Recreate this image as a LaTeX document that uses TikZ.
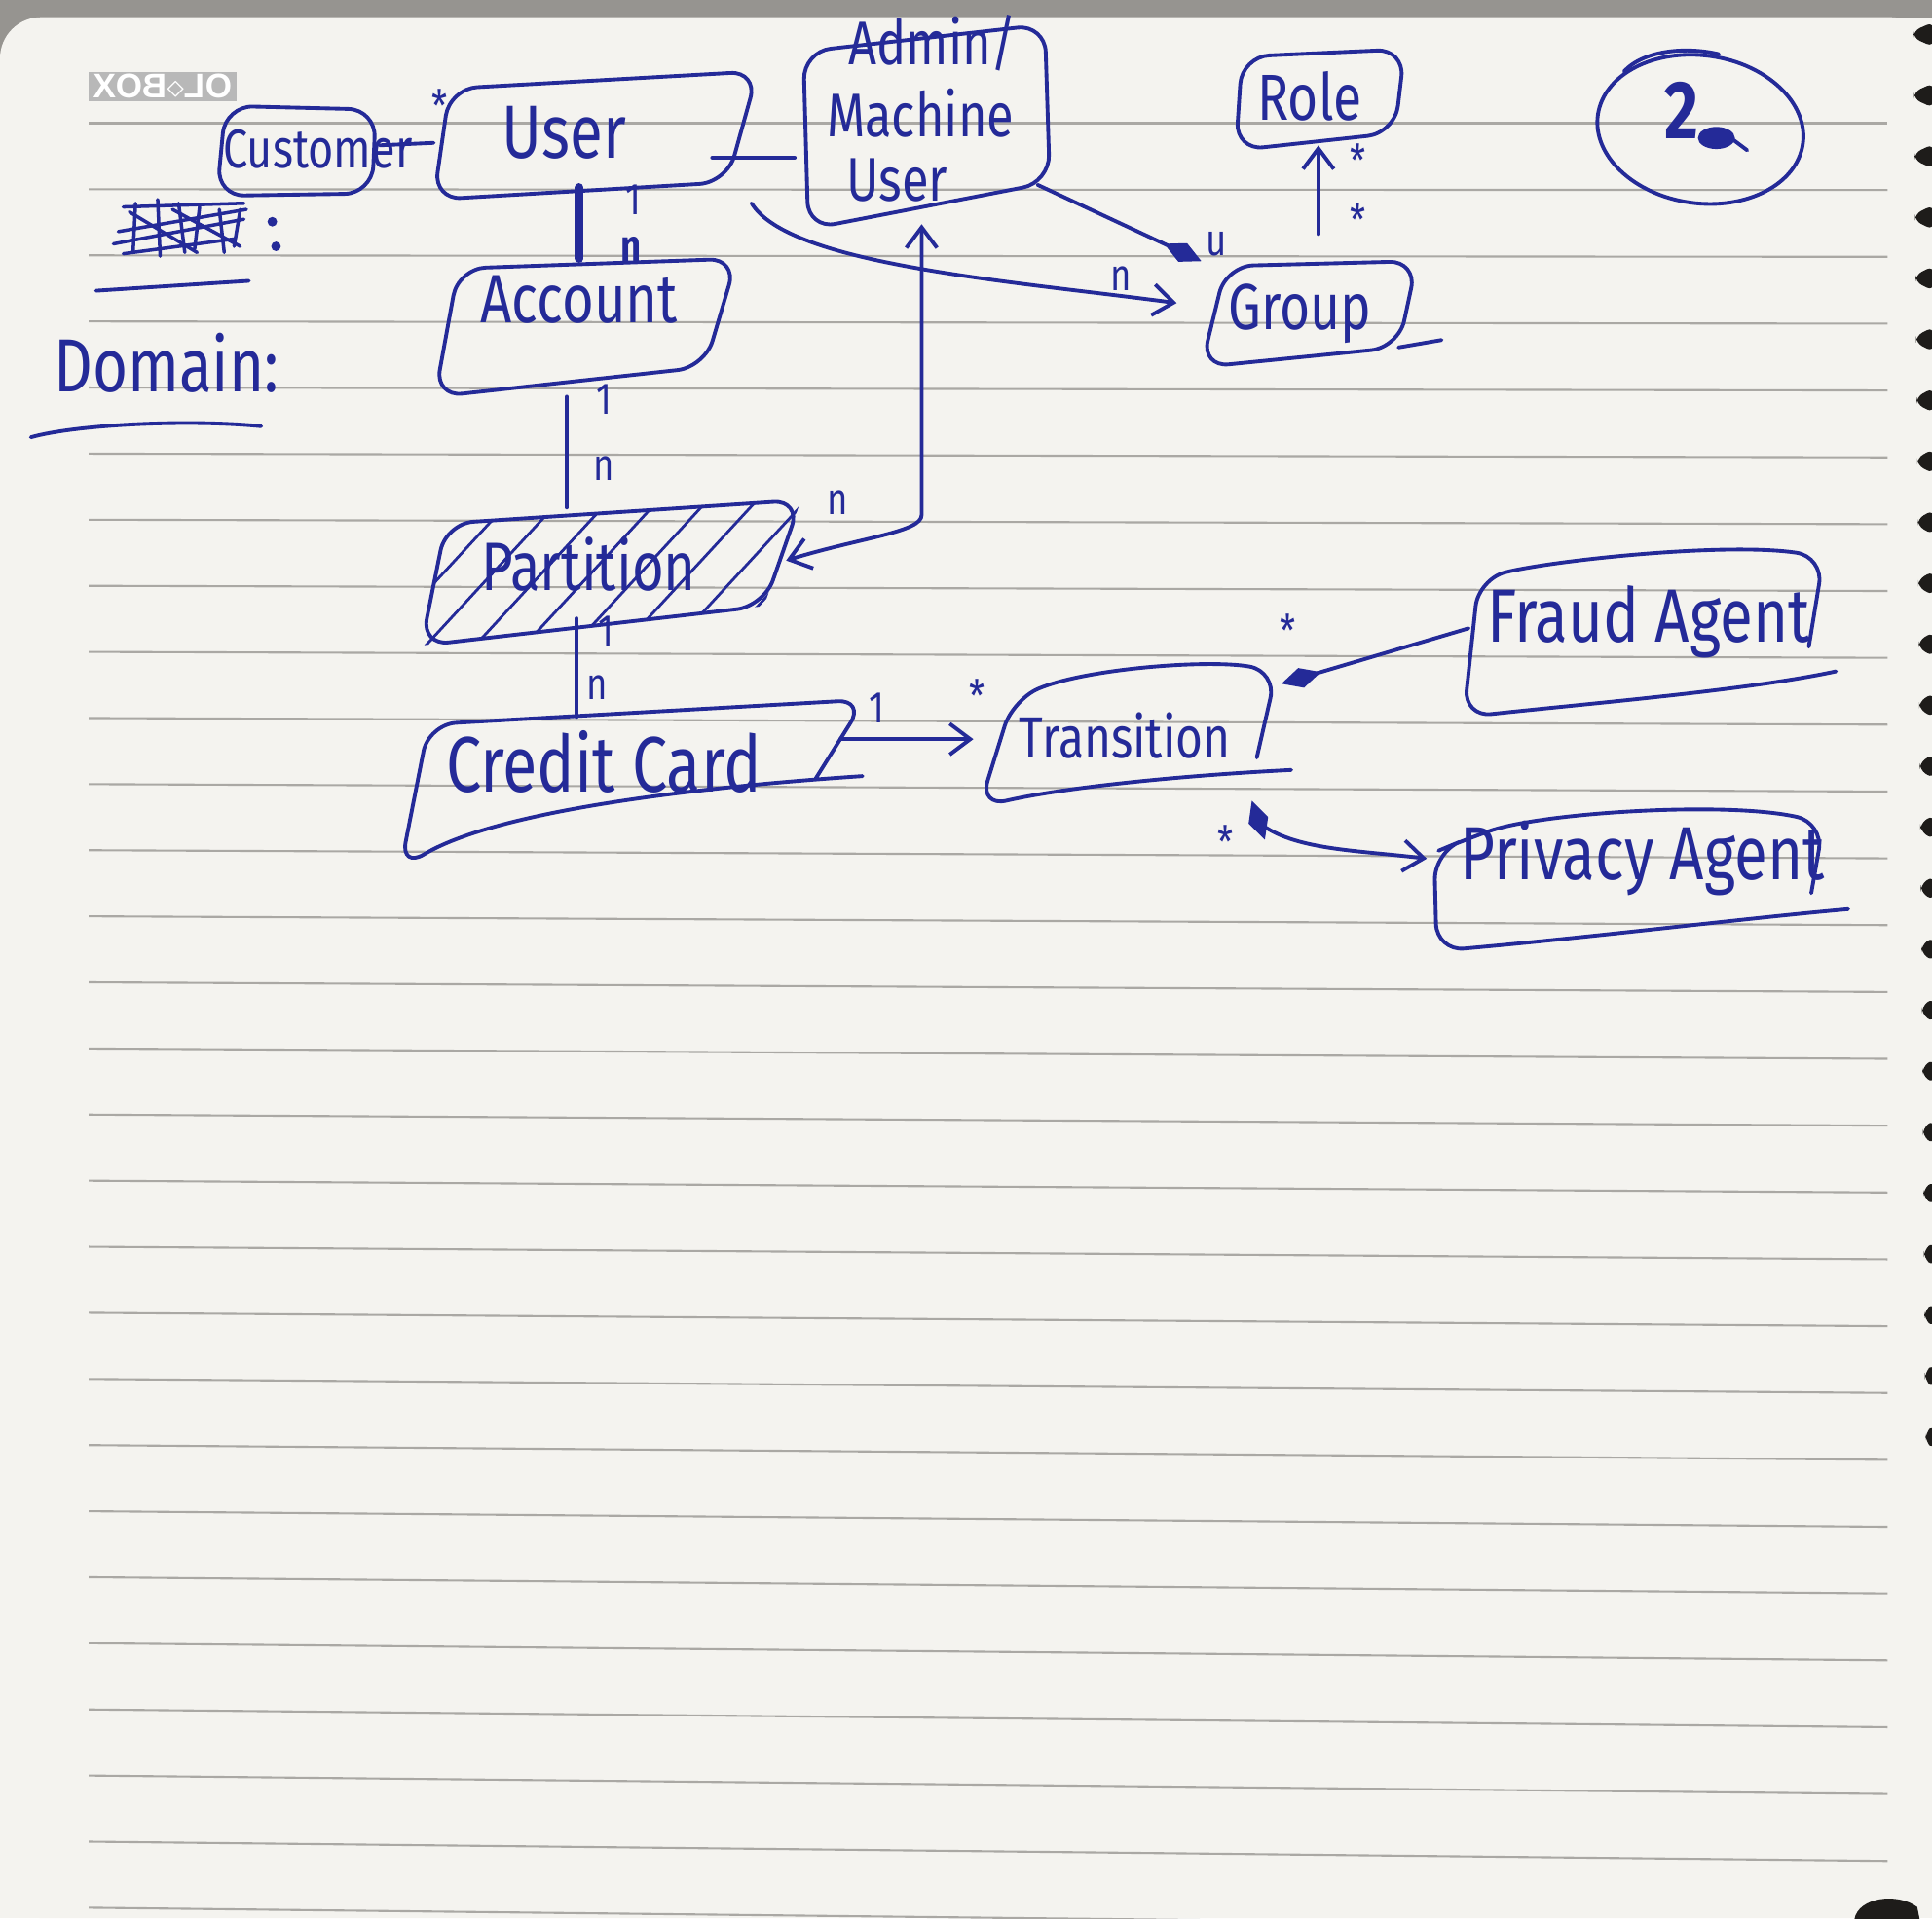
\documentclass[tikz,border=0pt]{standalone}
\usepackage{fontspec}
\setmainfont{Liberation Sans}
\newfontfamily\hand[FakeStretch=0.8]{Fira Sans}
\usetikzlibrary{arrows.meta}
\definecolor{ink}{RGB}{36,42,152}
\definecolor{paper}{RGB}{244,243,239}
\definecolor{rulegray}{RGB}{170,168,164}
\definecolor{desk}{RGB}{150,148,144}
\definecolor{hole}{RGB}{30,28,26}
\tikzset{
  pen/.style={draw=ink,line width=1.1pt,line cap=round,line join=round},
  box/.style={pen,rounded corners=8pt},
  word/.style={text=ink,inner sep=0pt,font=\hand\fontsize{#1}{#1}\selectfont},
  word/.default=22,
  mult/.style={text=ink,inner sep=0pt,font=\hand\fontsize{13}{13}\selectfont},
  barb/.tip={Straight Barb[length=6pt,width=9pt,line width=1.1pt]},
  blob/.tip={Diamond[length=12pt,width=6pt]},
}
\begin{document}
\begin{tikzpicture}[x=0.012653cm,y=-0.012653cm]
\useasboundingbox (0,0) rectangle (1568,1557);

% desk and notebook page
\fill[desk] (0,0) rectangle (1568,1557);
\fill[paper,rounded corners=12pt] (0,14) rectangle (1568,1557);
\fill[paper] (60,14) rectangle (1568,1557);
\fill[paper] (0,60) rectangle (1568,1557);

% ruled lines
\foreach \k in {0,...,27}{
  \pgfmathsetmacro\yy{100+53.65*\k}
  \draw[rulegray,line width=0.6pt] (72,\yy) -- (1532,{\yy+0.6*\k});
}

% spiral perforation on the right edge
\foreach \i in {0,...,23}{
  \pgfmathsetmacro\yy{28+49.5*\i}
  \pgfmathsetmacro\ww{15-0.42*\i}
  \fill[hole,rounded corners=2pt] (1569,\yy-10) -- ({1568-\ww},\yy-3) -- ({1568-\ww},\yy+3) -- (1569,\yy+10) -- cycle;
}
\fill[hole] (1505,1558) .. controls (1508,1540) and (1540,1536) .. (1556,1548) -- (1558,1558) -- cycle;

% printed logo seen through the page
\node[fill=black!28,text=white,inner sep=0pt,minimum width=1.52cm,minimum height=0.3cm,
      font=\bfseries\fontsize{10}{10}\selectfont,xscale=-1] (logo) at (132,70) {OL$\diamond$BOX};

% ---- heading notes ----
\node[word=22] (domain) at (135,295) {Domain:};
\draw[pen] (78,236) -- (202,228);
\draw[pen] (25,355) .. controls (60,345) and (150,340) .. (212,346);
% crossed-out word
\begin{scope}[pen,line width=1pt]
  \draw (110,165) -- (108,205);  \draw (128,162) -- (130,208);
  \draw (145,165) -- (150,205);  \draw (162,168) -- (158,202);
  \draw (178,170) -- (182,205);  \draw (195,170) -- (190,200);
  \draw (100,168) -- (198,165);  \draw (96,188) -- (200,170);
  \draw (92,198) -- (198,178);   \draw (100,206) -- (190,194);
  \draw (105,172) -- (160,205);  \draw (140,170) -- (195,200);
\end{scope}
\fill[ink] (221,180) circle (1.4pt);
\fill[ink] (224,200) circle (1.4pt);

% page number in a circle
\draw[pen] (1380,105) ellipse [x radius=84, y radius=60, rotate=-8];
\draw[pen] (1318,58) .. controls (1335,40) and (1370,38) .. (1395,44);
\node[text=ink,inner sep=0pt,font=\hand\bfseries\fontsize{24}{24}\selectfont] (pagenum) at (1365,90) {2};
\fill[ink] (1393,112) ellipse [x radius=15, y radius=9];
\draw[pen] (1402,110) -- (1418,122);

% ---- classes ----
\node[word=16] (customer) at (258,121) {Customer};
\draw[box] (183,86) -- (305,89) -- (302,157) -- (176,159) -- cycle;

\node[word=22] (user) at (458,108) {User};
\draw[box] (365,72) -- (615,58) -- (590,148) -- (352,162) -- cycle;

\node[word=18] (admin1) at (757,35) {Admin/};
\node[word=18] (admin2) at (747,92) {Machine};
\node[word=18] (admin3) at (728,146) {User};
\draw[box] (652,42) -- (848,20) -- (852,148) -- (656,186) -- cycle;

\node[word=19] (role) at (1063,78) {Role};
\draw[box] (1008,46) -- (1140,40) -- (1132,108) -- (1003,122) -- cycle;

\node[word=19] (group) at (1055,255) {Group};
\draw[box] (995,216) -- (1150,212) -- (1135,282) -- (975,298) -- cycle;
\draw[pen] (1135,282) -- (1170,276);

\node[word=20] (account) at (470,243) {Account};
\draw[box] (372,218) -- (598,210) -- (572,298) -- (353,322) -- cycle;

\node[word=20] (partition) at (478,458) {Partition};
\draw[box] (362,425) -- (650,406) -- (620,492) -- (342,524) -- cycle;
\begin{scope}
  \clip (362,425) -- (650,406) -- (620,492) -- (342,524) -- cycle;
  \foreach \i in {0,...,12}
    \draw[pen,line width=0.8pt] ({300+40*\i},530) -- ({420+40*\i},400);
\end{scope}

\node[word=23] (credit) at (490,618) {Credit Card};
\draw[box] (700,630) .. controls (550,640) and (400,660) .. (325,705) -- (348,588) -- (702,568) -- (662,632);

\node[word=17] (trans) at (913,597) {Transition};
\draw[box] (1020,615) -- (1036,545) .. controls (980,535) and (880,543) .. (822,568) -- (795,655)
           .. controls (860,640) and (950,630) .. (1048,625);

\node[word=22] (fraud) at (1338,505) {Fraud Agent};
\draw[box] (1468,525) -- (1480,452) .. controls (1400,440) and (1260,455) .. (1200,470) -- (1188,582)
           .. controls (1300,570) and (1420,560) .. (1490,545);

\node[word=22] (privacy) at (1333,697) {Privacy Agent};
\draw[box] (1470,725) -- (1480,668) .. controls (1400,650) and (1250,660) .. (1188,682) -- (1164,692)
           -- (1166,772) .. controls (1300,760) and (1420,745) .. (1500,738);

% ---- connection points ----
\coordinate (cust-e) at (308,118);
\coordinate (user-w) at (352,116);
\coordinate (user-e) at (578,128);
\coordinate (admin-w) at (645,128);
\coordinate (user-se) at (610,165);
\coordinate (group-w) at (955,246);
\coordinate (admin-se) at (842,150);
\coordinate (group-nw) at (975,212);
\coordinate (group-n) at (1070,190);
\coordinate (role-s) at (1070,118);
\coordinate (user-s) at (470,152);
\coordinate (acct-n) at (470,210);
\coordinate (acct-s) at (460,322);
\coordinate (part-n) at (460,412);
\coordinate (admin-s) at (748,182);
\coordinate (bend) at (748,418);
\coordinate (part-e) at (638,455);
\coordinate (part-s) at (468,502);
\coordinate (credit-n) at (468,582);
\coordinate (credit-e) at (682,600);
\coordinate (trans-w) at (790,600);
\coordinate (fraud-w) at (1192,510);
\coordinate (trans-ne) at (1040,555);
\coordinate (trans-se) at (1016,650);
\coordinate (kink) at (1022,668);
\coordinate (priv-w) at (1158,697);

% ---- associations ----
\draw[pen] (cust-e) -- (user-w);
\node[mult] (m-cu) at (357,86) {*};

\draw[pen] (user-e) -- (admin-w);

\draw[pen,-barb] (user-se) .. controls (640,215) and (820,228) .. (group-w);
\node[mult] (m-ug) at (910,226) {n};

\draw[pen,-blob] (admin-se) -- (group-nw);
\node[mult] (m-ag) at (987,198) {u};

\draw[pen,-barb] (group-n) -- (role-s);
\node[mult] (m-r1) at (1102,130) {*};
\node[mult] (m-r2) at (1102,178) {*};

\draw[pen,line width=2.4pt] (user-s) -- (acct-n);
\node[mult] (m-ua1) at (514,162) {1};
\node[mult,font=\hand\bfseries\fontsize{13}{13}\selectfont] (m-ua2) at (512,202) {n};

\draw[pen] (acct-s) -- (part-n);
\node[mult] (m-ap1) at (490,324) {1};
\node[mult] (m-ap2) at (490,380) {n};

\draw[pen,barb-barb] (admin-s) -- (bend) .. controls (748,432) and (700,436) .. (part-e);
\node[mult] (m-mp) at (680,408) {n};

\draw[pen] (part-s) -- (credit-n);
\node[mult] (m-pc1) at (492,512) {1};
\node[mult] (m-pc2) at (485,558) {n};

\draw[pen,-barb] (credit-e) -- (trans-w);
\node[mult] (m-ct1) at (712,575) {1};
\node[mult] (m-ct2) at (793,565) {*};

\draw[pen,-blob] (fraud-w) -- (trans-ne);
\node[mult] (m-ft) at (1045,512) {*};

\draw[pen,blob-barb] (trans-se) -- (kink) .. controls (1050,690) and (1100,690) .. (priv-w);
\node[mult] (m-tp) at (995,683) {*};
\end{tikzpicture}
\end{document}
